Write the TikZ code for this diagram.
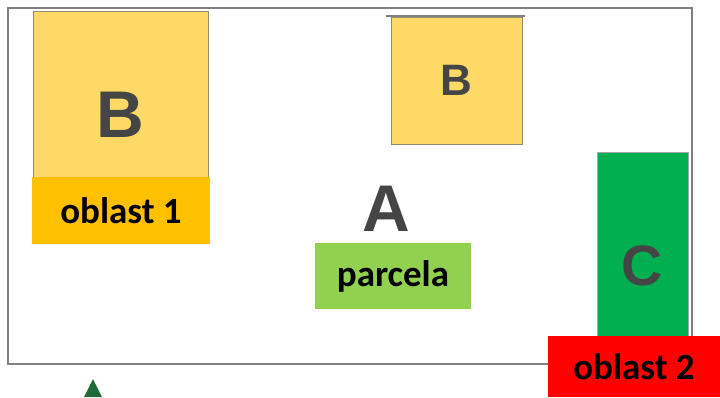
\documentclass[tikz,border=0pt]{standalone}
\usepackage{fontspec}
\setmainfont{Carlito}
\newfontfamily\letterfont{Liberation Sans}
\usetikzlibrary{positioning}

\definecolor{bfill}{HTML}{FFD966}
\definecolor{cfill}{HTML}{00B050}
\definecolor{letter}{HTML}{454545}
\definecolor{tagorange}{HTML}{FFC000}
\definecolor{taggreen}{HTML}{92D050}
\definecolor{tagred}{HTML}{FF0000}
\definecolor{arrowgreen}{HTML}{1E6B3A}
\definecolor{framegray}{HTML}{808080}

\begin{document}
\begin{tikzpicture}[x=1pt,y=-1pt,
  area/.style={draw=gray!80!olive, line width=1pt, inner sep=0pt, text=letter},
  tag/.style={inner sep=0pt, font=\bfseries\fontsize{37}{40}\selectfont}]
\useasboundingbox (0,0) rectangle (720,397);

% outer plot
\draw[framegray, line width=2pt] (8,8) rectangle (692,364);

% parts of the plot
\node (bbig) [area, fill=bfill, minimum width=175, minimum height=207,
  font=\letterfont\bfseries\fontsize{66}{66}\selectfont] at (120.5,114.5) {B};
\node (bsmall) [area, fill=bfill, minimum width=131, minimum height=127,
  font=\letterfont\bfseries\fontsize{44}{44}\selectfont] at (456.5,80.5) {B};
\draw[gray, line width=1.5pt] (386,16) -- (525,16);
\node (cpart) [area, draw=gray!70, fill=cfill, minimum width=91, minimum height=228,
  font=\letterfont\bfseries\fontsize{57}{57}\selectfont] at (642.5,266) {C};
\node (apart) [text=letter, font=\letterfont\bfseries\fontsize{66}{66}\selectfont] at (386,209) {A};

% labels
\node (oblast1) [tag, fill=tagorange, minimum width=178, minimum height=67] at (121,210.5) {oblast 1};
\node (parcela) [tag, fill=taggreen, minimum width=156, minimum height=66] at (393,276) {parcela};
\node (oblast2) [tag, fill=tagred, minimum width=172, minimum height=61] at (634,366.5) {oblast 2};

% north arrow
\fill[arrowgreen] (93,379) -- (84,397) -- (102,397) -- cycle;
\end{tikzpicture}
\end{document}
